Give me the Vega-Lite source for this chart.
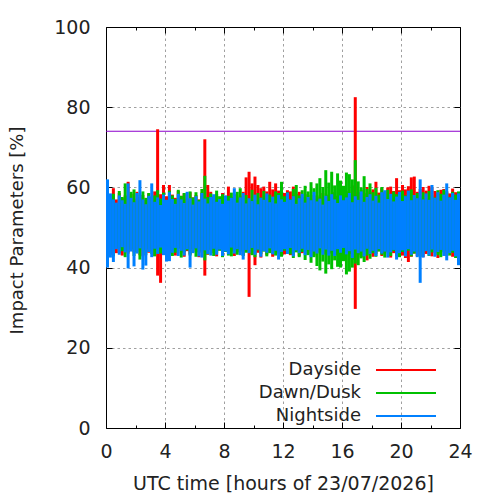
{
"$schema": "https://vega.github.io/schema/vega-lite/v6.json",
"width": 354, "height": 401,
"autosize": {"type": "none"},
"padding": {"left": 106, "top": 27, "right": 40, "bottom": 72},
"background": "white",
"config": {"font": "DejaVu Sans", "view": {"stroke": "black", "strokeWidth": 1}},
"resolve": {"scale": {"x": "independent", "y": "independent"}, "axis": {"x": "independent", "y": "independent"}},
"layer": [
{
"data": {"values": [{"limit": 74}]},
"mark": {"type": "rule", "color": "#8c00cc", "strokeWidth": 1.2},
"encoding": {
"x": {"datum": 0, "type": "quantitative", "scale": {"domain": [0, 24], "nice": false, "zero": false},
 "axis": {"orient": "top", "values": [0,2,4,6,8,10,12,14,16,18,20,22,24], "labels": false, "domain": false, "grid": false, "title": null, "tickColor": "black",
  "tickSize": {"condition": {"test": "datum.value % 4 === 0", "value": -6}, "value": -3}}},
"x2": {"datum": 24},
"y": {"field": "limit", "type": "quantitative", "scale": {"domain": [0, 100], "nice": false},
 "axis": {"orient": "right", "values": [0,20,40,60,80,100], "labels": false, "domain": false, "grid": false, "title": null, "tickColor": "black", "tickSize": -6}}
}
},
{
"data": {"values": [
{"t":0.1,"s":"Dayside","lo":44.0,"hi":57.5},{"t":0.3,"s":"Dayside","lo":43.2,"hi":58.2},{"t":0.5,"s":"Dayside","lo":44.5,"hi":59.8},{"t":0.7,"s":"Dayside","lo":43.6,"hi":57.0},{"t":0.9,"s":"Dayside","lo":44.8,"hi":58.6},{"t":1.1,"s":"Dayside","lo":43.0,"hi":57.3},{"t":1.3,"s":"Dayside","lo":44.1,"hi":58.0},{"t":1.5,"s":"Dayside","lo":43.5,"hi":61.4},{"t":1.7,"s":"Dayside","lo":44.6,"hi":58.4},{"t":1.9,"s":"Dayside","lo":43.8,"hi":57.2},
{"t":2.1,"s":"Dayside","lo":44.3,"hi":58.9},{"t":2.3,"s":"Dayside","lo":43.1,"hi":57.6},{"t":2.5,"s":"Dayside","lo":42.8,"hi":58.1},{"t":2.7,"s":"Dayside","lo":44.4,"hi":56.9},{"t":2.9,"s":"Dayside","lo":43.7,"hi":58.5},{"t":3.1,"s":"Dayside","lo":44.0,"hi":57.7},{"t":3.3,"s":"Dayside","lo":42.9,"hi":59.0},{"t":3.5,"s":"Dayside","lo":38.0,"hi":74.5},{"t":3.7,"s":"Dayside","lo":36.2,"hi":58.3},{"t":3.9,"s":"Dayside","lo":43.4,"hi":60.6},
{"t":4.1,"s":"Dayside","lo":44.6,"hi":57.8},{"t":4.3,"s":"Dayside","lo":43.5,"hi":60.6},{"t":4.5,"s":"Dayside","lo":44.2,"hi":58.2},{"t":4.7,"s":"Dayside","lo":43.0,"hi":57.4},{"t":4.9,"s":"Dayside","lo":44.7,"hi":59.1},{"t":5.1,"s":"Dayside","lo":43.6,"hi":57.9},{"t":5.3,"s":"Dayside","lo":42.7,"hi":58.5},{"t":5.5,"s":"Dayside","lo":44.1,"hi":57.2},{"t":5.7,"s":"Dayside","lo":43.3,"hi":58.8},{"t":5.9,"s":"Dayside","lo":44.5,"hi":57.5},
{"t":6.1,"s":"Dayside","lo":43.9,"hi":58.1},{"t":6.3,"s":"Dayside","lo":42.6,"hi":57.0},{"t":6.5,"s":"Dayside","lo":43.7,"hi":58.7},{"t":6.7,"s":"Dayside","lo":38.0,"hi":72.0},{"t":6.9,"s":"Dayside","lo":43.2,"hi":60.6},{"t":7.1,"s":"Dayside","lo":44.4,"hi":58.9},{"t":7.3,"s":"Dayside","lo":43.6,"hi":57.8},{"t":7.5,"s":"Dayside","lo":42.8,"hi":58.4},{"t":7.7,"s":"Dayside","lo":44.3,"hi":57.1},{"t":7.9,"s":"Dayside","lo":43.1,"hi":58.6},
{"t":8.1,"s":"Dayside","lo":44.7,"hi":57.9},{"t":8.3,"s":"Dayside","lo":43.5,"hi":60.2},{"t":8.5,"s":"Dayside","lo":44.0,"hi":57.6},{"t":8.7,"s":"Dayside","lo":42.9,"hi":58.3},{"t":8.9,"s":"Dayside","lo":43.8,"hi":57.5},{"t":9.1,"s":"Dayside","lo":44.4,"hi":58.0},{"t":9.3,"s":"Dayside","lo":43.0,"hi":58.9},{"t":9.5,"s":"Dayside","lo":43.9,"hi":62.5},{"t":9.7,"s":"Dayside","lo":32.7,"hi":63.9},{"t":9.9,"s":"Dayside","lo":43.4,"hi":61.0},
{"t":10.1,"s":"Dayside","lo":40.6,"hi":62.7},{"t":10.3,"s":"Dayside","lo":43.7,"hi":60.6},{"t":10.5,"s":"Dayside","lo":42.5,"hi":59.8},{"t":10.7,"s":"Dayside","lo":44.1,"hi":60.2},{"t":10.9,"s":"Dayside","lo":43.2,"hi":59.0},{"t":11.1,"s":"Dayside","lo":43.8,"hi":61.4},{"t":11.3,"s":"Dayside","lo":42.7,"hi":59.5},{"t":11.5,"s":"Dayside","lo":44.2,"hi":61.0},{"t":11.7,"s":"Dayside","lo":43.5,"hi":59.2},{"t":11.9,"s":"Dayside","lo":44.0,"hi":60.0},
{"t":12.1,"s":"Dayside","lo":43.3,"hi":58.6},{"t":12.3,"s":"Dayside","lo":44.6,"hi":59.3},{"t":12.5,"s":"Dayside","lo":43.1,"hi":59.0},{"t":12.7,"s":"Dayside","lo":43.9,"hi":60.2},{"t":12.9,"s":"Dayside","lo":44.2,"hi":58.4},{"t":13.1,"s":"Dayside","lo":42.9,"hi":58.9},{"t":13.3,"s":"Dayside","lo":43.6,"hi":57.6},{"t":13.5,"s":"Dayside","lo":44.5,"hi":58.3},{"t":13.7,"s":"Dayside","lo":43.4,"hi":57.4},{"t":13.9,"s":"Dayside","lo":44.1,"hi":58.1},
{"t":14.1,"s":"Dayside","lo":43.0,"hi":57.2},{"t":14.3,"s":"Dayside","lo":44.3,"hi":58.0},{"t":14.5,"s":"Dayside","lo":43.7,"hi":57.5},{"t":14.7,"s":"Dayside","lo":44.8,"hi":58.6},{"t":14.9,"s":"Dayside","lo":43.3,"hi":57.3},{"t":15.1,"s":"Dayside","lo":44.0,"hi":58.2},{"t":15.3,"s":"Dayside","lo":43.5,"hi":57.6},{"t":15.5,"s":"Dayside","lo":44.6,"hi":58.8},{"t":15.7,"s":"Dayside","lo":43.1,"hi":57.9},{"t":15.9,"s":"Dayside","lo":44.2,"hi":58.4},
{"t":16.1,"s":"Dayside","lo":43.8,"hi":57.7},{"t":16.3,"s":"Dayside","lo":44.5,"hi":59.0},{"t":16.5,"s":"Dayside","lo":43.4,"hi":58.2},{"t":16.7,"s":"Dayside","lo":42.0,"hi":60.5},{"t":16.9,"s":"Dayside","lo":29.7,"hi":82.5},{"t":17.1,"s":"Dayside","lo":43.2,"hi":58.8},{"t":17.3,"s":"Dayside","lo":42.6,"hi":59.4},{"t":17.5,"s":"Dayside","lo":43.9,"hi":58.6},{"t":17.7,"s":"Dayside","lo":41.8,"hi":60.1},{"t":17.9,"s":"Dayside","lo":43.5,"hi":59.0},
{"t":18.1,"s":"Dayside","lo":42.7,"hi":59.5},{"t":18.3,"s":"Dayside","lo":43.4,"hi":61.4},{"t":18.5,"s":"Dayside","lo":44.1,"hi":58.7},{"t":18.7,"s":"Dayside","lo":42.9,"hi":59.8},{"t":18.9,"s":"Dayside","lo":43.3,"hi":58.9},{"t":19.1,"s":"Dayside","lo":44.0,"hi":60.0},{"t":19.3,"s":"Dayside","lo":42.5,"hi":60.2},{"t":19.5,"s":"Dayside","lo":43.6,"hi":59.1},{"t":19.7,"s":"Dayside","lo":42.8,"hi":62.3},{"t":19.9,"s":"Dayside","lo":44.2,"hi":59.3},
{"t":20.1,"s":"Dayside","lo":43.0,"hi":60.6},{"t":20.3,"s":"Dayside","lo":42.4,"hi":59.5},{"t":20.5,"s":"Dayside","lo":41.4,"hi":60.3},{"t":20.7,"s":"Dayside","lo":42.7,"hi":62.5},{"t":20.9,"s":"Dayside","lo":43.5,"hi":62.7},{"t":21.1,"s":"Dayside","lo":42.9,"hi":58.9},{"t":21.3,"s":"Dayside","lo":43.8,"hi":59.6},{"t":21.5,"s":"Dayside","lo":42.6,"hi":60.1},{"t":21.7,"s":"Dayside","lo":43.4,"hi":59.2},{"t":21.9,"s":"Dayside","lo":44.0,"hi":60.4},
{"t":22.1,"s":"Dayside","lo":42.8,"hi":60.0},{"t":22.3,"s":"Dayside","lo":43.7,"hi":59.1},{"t":22.5,"s":"Dayside","lo":42.4,"hi":58.7},{"t":22.7,"s":"Dayside","lo":43.5,"hi":59.4},{"t":22.9,"s":"Dayside","lo":44.1,"hi":59.6},{"t":23.1,"s":"Dayside","lo":42.9,"hi":59.1},{"t":23.3,"s":"Dayside","lo":43.6,"hi":58.5},{"t":23.5,"s":"Dayside","lo":42.7,"hi":59.7},{"t":23.7,"s":"Dayside","lo":43.9,"hi":58.8},{"t":23.9,"s":"Dayside","lo":44.5,"hi":58.2},
{"t":0.1,"s":"Dawn/Dusk","lo":43.0,"hi":59.0},{"t":0.3,"s":"Dawn/Dusk","lo":44.2,"hi":57.2},{"t":0.5,"s":"Dawn/Dusk","lo":42.8,"hi":58.4},{"t":0.7,"s":"Dawn/Dusk","lo":44.9,"hi":56.0},{"t":0.9,"s":"Dawn/Dusk","lo":43.6,"hi":59.1},{"t":1.1,"s":"Dawn/Dusk","lo":44.1,"hi":57.6},{"t":1.3,"s":"Dawn/Dusk","lo":42.6,"hi":61.0},{"t":1.5,"s":"Dawn/Dusk","lo":43.9,"hi":57.8},{"t":1.7,"s":"Dawn/Dusk","lo":44.5,"hi":58.9},{"t":1.9,"s":"Dawn/Dusk","lo":42.9,"hi":59.5},
{"t":2.1,"s":"Dawn/Dusk","lo":43.8,"hi":56.7},{"t":2.3,"s":"Dawn/Dusk","lo":42.0,"hi":58.2},{"t":2.5,"s":"Dawn/Dusk","lo":44.3,"hi":59.0},{"t":2.7,"s":"Dawn/Dusk","lo":43.1,"hi":57.4},{"t":2.9,"s":"Dawn/Dusk","lo":44.6,"hi":58.6},{"t":3.1,"s":"Dawn/Dusk","lo":43.4,"hi":56.9},{"t":3.3,"s":"Dawn/Dusk","lo":42.8,"hi":58.0},{"t":3.5,"s":"Dawn/Dusk","lo":44.0,"hi":59.3},{"t":3.7,"s":"Dawn/Dusk","lo":43.5,"hi":57.2},{"t":3.9,"s":"Dawn/Dusk","lo":44.7,"hi":58.7},
{"t":4.1,"s":"Dawn/Dusk","lo":43.2,"hi":56.8},{"t":4.3,"s":"Dawn/Dusk","lo":44.4,"hi":59.2},{"t":4.5,"s":"Dawn/Dusk","lo":42.9,"hi":58.0},{"t":4.7,"s":"Dawn/Dusk","lo":43.7,"hi":57.1},{"t":4.9,"s":"Dawn/Dusk","lo":44.8,"hi":59.4},{"t":5.1,"s":"Dawn/Dusk","lo":42.5,"hi":57.9},{"t":5.3,"s":"Dawn/Dusk","lo":43.9,"hi":58.6},{"t":5.5,"s":"Dawn/Dusk","lo":44.3,"hi":56.7},{"t":5.7,"s":"Dawn/Dusk","lo":43.0,"hi":59.0},{"t":5.9,"s":"Dawn/Dusk","lo":44.6,"hi":57.5},
{"t":6.1,"s":"Dawn/Dusk","lo":42.7,"hi":58.8},{"t":6.3,"s":"Dawn/Dusk","lo":43.8,"hi":56.9},{"t":6.5,"s":"Dawn/Dusk","lo":44.1,"hi":59.6},{"t":6.7,"s":"Dawn/Dusk","lo":41.8,"hi":62.9},{"t":6.9,"s":"Dawn/Dusk","lo":43.3,"hi":57.6},{"t":7.1,"s":"Dawn/Dusk","lo":44.5,"hi":58.5},{"t":7.3,"s":"Dawn/Dusk","lo":42.9,"hi":57.0},{"t":7.5,"s":"Dawn/Dusk","lo":43.6,"hi":59.2},{"t":7.7,"s":"Dawn/Dusk","lo":44.2,"hi":57.8},{"t":7.9,"s":"Dawn/Dusk","lo":42.6,"hi":58.3},
{"t":8.1,"s":"Dawn/Dusk","lo":43.9,"hi":56.6},{"t":8.3,"s":"Dawn/Dusk","lo":43.0,"hi":57.9},{"t":8.5,"s":"Dawn/Dusk","lo":42.8,"hi":58.7},{"t":8.7,"s":"Dawn/Dusk","lo":44.4,"hi":57.2},{"t":8.9,"s":"Dawn/Dusk","lo":43.2,"hi":58.9},{"t":9.1,"s":"Dawn/Dusk","lo":44.0,"hi":59.8},{"t":9.3,"s":"Dawn/Dusk","lo":42.9,"hi":57.4},{"t":9.5,"s":"Dawn/Dusk","lo":43.7,"hi":58.1},{"t":9.7,"s":"Dawn/Dusk","lo":44.6,"hi":57.0},{"t":9.9,"s":"Dawn/Dusk","lo":43.1,"hi":59.4},
{"t":10.1,"s":"Dawn/Dusk","lo":42.6,"hi":56.8},{"t":10.3,"s":"Dawn/Dusk","lo":44.3,"hi":58.6},{"t":10.5,"s":"Dawn/Dusk","lo":43.4,"hi":57.5},{"t":10.7,"s":"Dawn/Dusk","lo":44.0,"hi":59.1},{"t":10.9,"s":"Dawn/Dusk","lo":42.8,"hi":56.9},{"t":11.1,"s":"Dawn/Dusk","lo":43.6,"hi":58.2},{"t":11.3,"s":"Dawn/Dusk","lo":44.5,"hi":57.4},{"t":11.5,"s":"Dawn/Dusk","lo":43.0,"hi":59.0},{"t":11.7,"s":"Dawn/Dusk","lo":43.9,"hi":58.6},{"t":11.9,"s":"Dawn/Dusk","lo":42.7,"hi":61.4},
{"t":12.1,"s":"Dawn/Dusk","lo":44.2,"hi":57.8},{"t":12.3,"s":"Dawn/Dusk","lo":43.5,"hi":58.8},{"t":12.5,"s":"Dawn/Dusk","lo":43.3,"hi":57.1},{"t":12.7,"s":"Dawn/Dusk","lo":42.4,"hi":59.6},{"t":12.9,"s":"Dawn/Dusk","lo":43.8,"hi":60.6},{"t":13.1,"s":"Dawn/Dusk","lo":42.6,"hi":58.0},{"t":13.3,"s":"Dawn/Dusk","lo":43.9,"hi":59.3},{"t":13.5,"s":"Dawn/Dusk","lo":41.9,"hi":60.4},{"t":13.7,"s":"Dawn/Dusk","lo":43.1,"hi":59.0},{"t":13.9,"s":"Dawn/Dusk","lo":41.2,"hi":61.3},
{"t":14.1,"s":"Dawn/Dusk","lo":42.6,"hi":59.8},{"t":14.3,"s":"Dawn/Dusk","lo":40.4,"hi":61.0},{"t":14.5,"s":"Dawn/Dusk","lo":39.3,"hi":62.3},{"t":14.7,"s":"Dawn/Dusk","lo":41.5,"hi":60.1},{"t":14.9,"s":"Dawn/Dusk","lo":38.5,"hi":64.3},{"t":15.1,"s":"Dawn/Dusk","lo":40.8,"hi":61.2},{"t":15.3,"s":"Dawn/Dusk","lo":39.6,"hi":63.9},{"t":15.5,"s":"Dawn/Dusk","lo":41.8,"hi":60.5},{"t":15.7,"s":"Dawn/Dusk","lo":40.2,"hi":63.5},{"t":15.9,"s":"Dawn/Dusk","lo":40.0,"hi":61.7},
{"t":16.1,"s":"Dawn/Dusk","lo":41.6,"hi":60.4},{"t":16.3,"s":"Dawn/Dusk","lo":38.3,"hi":63.7},{"t":16.5,"s":"Dawn/Dusk","lo":39.0,"hi":63.3},{"t":16.7,"s":"Dawn/Dusk","lo":40.0,"hi":62.0},{"t":16.9,"s":"Dawn/Dusk","lo":41.0,"hi":66.8},{"t":17.1,"s":"Dawn/Dusk","lo":40.6,"hi":61.5},{"t":17.3,"s":"Dawn/Dusk","lo":42.3,"hi":60.0},{"t":17.5,"s":"Dawn/Dusk","lo":41.4,"hi":62.8},{"t":17.7,"s":"Dawn/Dusk","lo":43.0,"hi":59.6},{"t":17.9,"s":"Dawn/Dusk","lo":42.2,"hi":61.0},
{"t":18.1,"s":"Dawn/Dusk","lo":43.6,"hi":58.8},{"t":18.3,"s":"Dawn/Dusk","lo":42.7,"hi":59.9},{"t":18.5,"s":"Dawn/Dusk","lo":44.0,"hi":58.2},{"t":18.7,"s":"Dawn/Dusk","lo":43.2,"hi":60.1},{"t":18.9,"s":"Dawn/Dusk","lo":42.5,"hi":58.5},{"t":19.1,"s":"Dawn/Dusk","lo":43.8,"hi":59.4},{"t":19.3,"s":"Dawn/Dusk","lo":42.9,"hi":57.8},{"t":19.5,"s":"Dawn/Dusk","lo":44.1,"hi":59.0},{"t":19.7,"s":"Dawn/Dusk","lo":43.4,"hi":58.3},{"t":19.9,"s":"Dawn/Dusk","lo":42.6,"hi":57.6},
{"t":20.1,"s":"Dawn/Dusk","lo":43.9,"hi":59.2},{"t":20.3,"s":"Dawn/Dusk","lo":43.0,"hi":58.0},{"t":20.5,"s":"Dawn/Dusk","lo":44.2,"hi":58.7},{"t":20.7,"s":"Dawn/Dusk","lo":42.8,"hi":59.5},{"t":20.9,"s":"Dawn/Dusk","lo":43.5,"hi":57.4},{"t":21.1,"s":"Dawn/Dusk","lo":44.0,"hi":58.6},{"t":21.3,"s":"Dawn/Dusk","lo":42.7,"hi":57.9},{"t":21.5,"s":"Dawn/Dusk","lo":43.6,"hi":58.8},{"t":21.7,"s":"Dawn/Dusk","lo":44.3,"hi":57.2},{"t":21.9,"s":"Dawn/Dusk","lo":42.9,"hi":59.1},
{"t":22.1,"s":"Dawn/Dusk","lo":43.8,"hi":58.0},{"t":22.3,"s":"Dawn/Dusk","lo":44.4,"hi":57.5},{"t":22.5,"s":"Dawn/Dusk","lo":43.1,"hi":59.3},{"t":22.7,"s":"Dawn/Dusk","lo":42.6,"hi":58.4},{"t":22.9,"s":"Dawn/Dusk","lo":43.9,"hi":59.4},{"t":23.1,"s":"Dawn/Dusk","lo":44.2,"hi":58.8},{"t":23.3,"s":"Dawn/Dusk","lo":43.0,"hi":57.6},{"t":23.5,"s":"Dawn/Dusk","lo":43.7,"hi":58.9},{"t":23.7,"s":"Dawn/Dusk","lo":42.4,"hi":58.2},{"t":23.9,"s":"Dawn/Dusk","lo":43.3,"hi":59.0},
{"t":0.1,"s":"Nightside","lo":40.0,"hi":62.0},{"t":0.3,"s":"Nightside","lo":42.5,"hi":58.5},{"t":0.5,"s":"Nightside","lo":41.4,"hi":57.0},{"t":0.7,"s":"Nightside","lo":44.6,"hi":56.2},{"t":0.9,"s":"Nightside","lo":43.2,"hi":58.0},{"t":1.1,"s":"Nightside","lo":45.1,"hi":56.8},{"t":1.3,"s":"Nightside","lo":43.8,"hi":55.9},{"t":1.5,"s":"Nightside","lo":39.8,"hi":61.0},{"t":1.7,"s":"Nightside","lo":44.0,"hi":57.4},{"t":1.9,"s":"Nightside","lo":40.3,"hi":56.3},
{"t":2.1,"s":"Nightside","lo":43.5,"hi":58.6},{"t":2.3,"s":"Nightside","lo":44.8,"hi":61.8},{"t":2.5,"s":"Nightside","lo":39.5,"hi":57.0},{"t":2.7,"s":"Nightside","lo":40.5,"hi":55.8},{"t":2.9,"s":"Nightside","lo":43.9,"hi":57.9},{"t":3.1,"s":"Nightside","lo":42.6,"hi":61.0},{"t":3.3,"s":"Nightside","lo":44.7,"hi":56.4},{"t":3.5,"s":"Nightside","lo":43.4,"hi":57.5},{"t":3.7,"s":"Nightside","lo":45.0,"hi":55.6},{"t":3.9,"s":"Nightside","lo":43.1,"hi":58.2},
{"t":4.1,"s":"Nightside","lo":41.5,"hi":56.9},{"t":4.3,"s":"Nightside","lo":41.6,"hi":58.8},{"t":4.5,"s":"Nightside","lo":43.7,"hi":57.1},{"t":4.7,"s":"Nightside","lo":44.9,"hi":55.9},{"t":4.9,"s":"Nightside","lo":42.9,"hi":58.4},{"t":5.1,"s":"Nightside","lo":44.2,"hi":57.0},{"t":5.3,"s":"Nightside","lo":43.0,"hi":56.1},{"t":5.5,"s":"Nightside","lo":44.6,"hi":58.9},{"t":5.7,"s":"Nightside","lo":40.0,"hi":57.3},{"t":5.9,"s":"Nightside","lo":43.6,"hi":55.7},
{"t":6.1,"s":"Nightside","lo":44.8,"hi":57.8},{"t":6.3,"s":"Nightside","lo":42.8,"hi":56.5},{"t":6.5,"s":"Nightside","lo":42.5,"hi":58.6},{"t":6.7,"s":"Nightside","lo":44.3,"hi":57.2},{"t":6.9,"s":"Nightside","lo":43.4,"hi":56.0},{"t":7.1,"s":"Nightside","lo":43.0,"hi":57.6},{"t":7.3,"s":"Nightside","lo":44.7,"hi":58.3},{"t":7.5,"s":"Nightside","lo":43.2,"hi":56.4},{"t":7.7,"s":"Nightside","lo":44.5,"hi":57.1},{"t":7.9,"s":"Nightside","lo":42.9,"hi":55.9},
{"t":8.1,"s":"Nightside","lo":44.0,"hi":58.0},{"t":8.3,"s":"Nightside","lo":43.3,"hi":56.7},{"t":8.5,"s":"Nightside","lo":45.0,"hi":57.4},{"t":8.7,"s":"Nightside","lo":43.5,"hi":59.8},{"t":8.9,"s":"Nightside","lo":44.6,"hi":56.2},{"t":9.1,"s":"Nightside","lo":43.1,"hi":57.5},{"t":9.3,"s":"Nightside","lo":42.0,"hi":58.6},{"t":9.5,"s":"Nightside","lo":44.4,"hi":56.0},{"t":9.7,"s":"Nightside","lo":43.6,"hi":57.3},{"t":9.9,"s":"Nightside","lo":44.9,"hi":56.6},
{"t":10.1,"s":"Nightside","lo":43.2,"hi":58.2},{"t":10.3,"s":"Nightside","lo":44.5,"hi":55.8},{"t":10.5,"s":"Nightside","lo":42.7,"hi":57.4},{"t":10.7,"s":"Nightside","lo":44.1,"hi":56.9},{"t":10.9,"s":"Nightside","lo":43.7,"hi":58.5},{"t":11.1,"s":"Nightside","lo":44.8,"hi":56.3},{"t":11.3,"s":"Nightside","lo":43.3,"hi":57.7},{"t":11.5,"s":"Nightside","lo":44.2,"hi":56.0},{"t":11.7,"s":"Nightside","lo":42.0,"hi":58.1},{"t":11.9,"s":"Nightside","lo":43.9,"hi":57.0},
{"t":12.1,"s":"Nightside","lo":44.6,"hi":56.4},{"t":12.3,"s":"Nightside","lo":43.4,"hi":58.7},{"t":12.5,"s":"Nightside","lo":44.9,"hi":56.9},{"t":12.7,"s":"Nightside","lo":42.8,"hi":57.8},{"t":12.9,"s":"Nightside","lo":44.3,"hi":55.9},{"t":13.1,"s":"Nightside","lo":43.6,"hi":57.3},{"t":13.3,"s":"Nightside","lo":44.7,"hi":58.4},{"t":13.5,"s":"Nightside","lo":43.1,"hi":56.2},{"t":13.7,"s":"Nightside","lo":44.4,"hi":57.6},{"t":13.9,"s":"Nightside","lo":42.6,"hi":56.8},
{"t":14.1,"s":"Nightside","lo":44.0,"hi":58.9},{"t":14.3,"s":"Nightside","lo":43.5,"hi":56.5},{"t":14.5,"s":"Nightside","lo":44.8,"hi":57.2},{"t":14.7,"s":"Nightside","lo":43.2,"hi":55.7},{"t":14.9,"s":"Nightside","lo":44.5,"hi":57.9},{"t":15.1,"s":"Nightside","lo":43.0,"hi":56.6},{"t":15.3,"s":"Nightside","lo":44.2,"hi":58.3},{"t":15.5,"s":"Nightside","lo":42.9,"hi":57.0},{"t":15.7,"s":"Nightside","lo":44.6,"hi":56.1},{"t":15.9,"s":"Nightside","lo":43.7,"hi":58.0},
{"t":16.1,"s":"Nightside","lo":44.9,"hi":56.8},{"t":16.3,"s":"Nightside","lo":43.3,"hi":57.5},{"t":16.5,"s":"Nightside","lo":44.1,"hi":58.6},{"t":16.7,"s":"Nightside","lo":42.4,"hi":56.3},{"t":16.9,"s":"Nightside","lo":44.5,"hi":57.8},{"t":17.1,"s":"Nightside","lo":43.6,"hi":56.9},{"t":17.3,"s":"Nightside","lo":44.0,"hi":59.0},{"t":17.5,"s":"Nightside","lo":42.8,"hi":56.4},{"t":17.7,"s":"Nightside","lo":44.7,"hi":57.6},{"t":17.9,"s":"Nightside","lo":43.4,"hi":58.3},
{"t":18.1,"s":"Nightside","lo":44.2,"hi":56.7},{"t":18.3,"s":"Nightside","lo":42.9,"hi":57.9},{"t":18.5,"s":"Nightside","lo":44.6,"hi":56.2},{"t":18.7,"s":"Nightside","lo":43.5,"hi":58.8},{"t":18.9,"s":"Nightside","lo":44.0,"hi":59.3},{"t":19.1,"s":"Nightside","lo":42.5,"hi":57.1},{"t":19.3,"s":"Nightside","lo":43.8,"hi":58.4},{"t":19.5,"s":"Nightside","lo":44.4,"hi":56.5},{"t":19.7,"s":"Nightside","lo":42.0,"hi":57.7},{"t":19.9,"s":"Nightside","lo":43.6,"hi":58.9},
{"t":20.1,"s":"Nightside","lo":44.3,"hi":56.6},{"t":20.3,"s":"Nightside","lo":42.8,"hi":57.8},{"t":20.5,"s":"Nightside","lo":44.6,"hi":59.2},{"t":20.7,"s":"Nightside","lo":43.2,"hi":56.8},{"t":20.9,"s":"Nightside","lo":44.0,"hi":58.1},{"t":21.1,"s":"Nightside","lo":42.6,"hi":57.3},{"t":21.3,"s":"Nightside","lo":36.2,"hi":62.0},{"t":21.5,"s":"Nightside","lo":42.5,"hi":57.0},{"t":21.7,"s":"Nightside","lo":44.1,"hi":58.5},{"t":21.9,"s":"Nightside","lo":43.0,"hi":56.9},
{"t":22.1,"s":"Nightside","lo":44.5,"hi":60.6},{"t":22.3,"s":"Nightside","lo":42.7,"hi":57.4},{"t":22.5,"s":"Nightside","lo":43.9,"hi":58.8},{"t":22.7,"s":"Nightside","lo":44.4,"hi":56.7},{"t":22.9,"s":"Nightside","lo":42.9,"hi":58.2},{"t":23.1,"s":"Nightside","lo":41.8,"hi":61.0},{"t":23.3,"s":"Nightside","lo":43.6,"hi":57.5},{"t":23.5,"s":"Nightside","lo":44.2,"hi":58.6},{"t":23.7,"s":"Nightside","lo":42.8,"hi":56.9},{"t":23.9,"s":"Nightside","lo":40.6,"hi":58.5}
]},
"mark": {"type": "rule", "strokeWidth": 3},
"encoding": {
"x": {"field": "t", "type": "quantitative", "scale": {"domain": [0, 24], "nice": false, "zero": false},
 "axis": {"orient": "bottom", "values": [0,2,4,6,8,10,12,14,16,18,20,22,24], "labelExpr": "datum.value % 4 === 0 ? datum.label : ''",
  "labelFontSize": 19, "labelColor": "#222222", "labelPadding": 20, "labelFlush": false, "domain": false, "tickColor": "black",
  "tickSize": {"condition": {"test": "datum.value % 4 === 0", "value": -6}, "value": -3},
  "grid": true, "gridColor": "#a0a0a0", "gridDash": [2.5, 3], "gridWidth": 1,
  "gridOpacity": {"condition": {"test": "datum.value % 4 === 0 && datum.value > 0 && datum.value < 24", "value": 1}, "value": 0},
  "title": "UTC time [hours of 23/07/2026]", "titleFontSize": 19, "titleFontWeight": "normal", "titleColor": "#222222",
  "titleX": 177, "titleY": 61, "titleBaseline": "alphabetic", "titleAlign": "center"}},
"y": {"field": "lo", "type": "quantitative", "scale": {"domain": [0, 100], "nice": false},
 "axis": {"orient": "left", "values": [0,20,40,60,80,100], "labelFontSize": 19, "labelColor": "#222222", "labelPadding": 22, "domain": false,
  "tickColor": "black", "tickSize": -6,
  "grid": true, "gridColor": "#a0a0a0", "gridDash": [2.5, 3], "gridWidth": 1,
  "gridOpacity": {"condition": {"test": "datum.value > 0 && datum.value < 100", "value": 1}, "value": 0},
  "title": "Impact Parameters [%]", "titleFontSize": 18, "titleFontWeight": "normal", "titleColor": "#222222",
  "titleX": -84, "titleY": 203, "titleBaseline": "alphabetic", "titleAlign": "center", "titleAngle": -90}},
"y2": {"field": "hi"},
"color": {"field": "s", "type": "nominal",
 "scale": {"domain": ["Dayside", "Dawn/Dusk", "Nightside"], "range": ["#ff0000", "#00c000", "#0080ff"]},
 "legend": {"orient": "none", "legendX": 291, "legendY": 334, "title": null, "symbolType": "M-5,0H5", "symbolSize": 144, "symbolStrokeWidth": 2,
  "labelAlign": "right", "labelOffset": -54, "labelFontSize": 18, "labelColor": "#222222", "rowPadding": 5, "padding": 0}}
}
}
]
}
